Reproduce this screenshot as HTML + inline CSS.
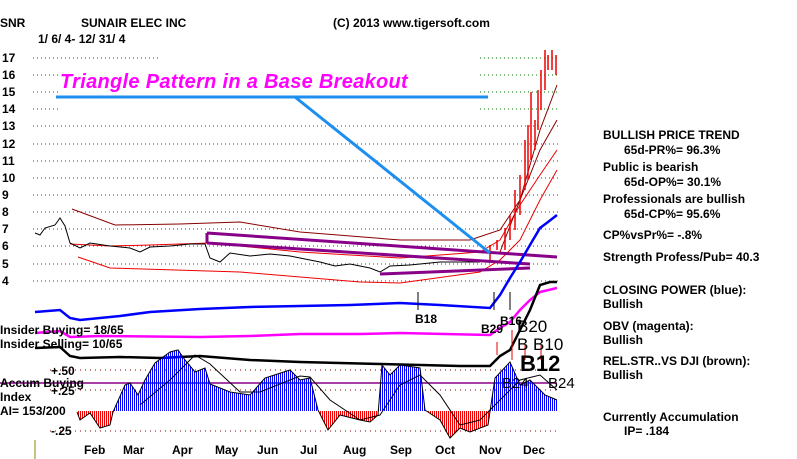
<!DOCTYPE html>
<html><head><meta charset="utf-8"><style>
html,body{margin:0;padding:0;background:#fff;}
#w{position:relative;width:797px;height:459px;overflow:hidden;font-family:"Liberation Sans",sans-serif;font-weight:bold;color:#000;}
.t{position:absolute;font-size:12px;white-space:nowrap;line-height:1;}
svg{position:absolute;left:0;top:0;}
</style></head><body><div id="w">
<svg width="797" height="459">
<defs>
<pattern id="pb" x="0" y="0" width="2" height="4" patternUnits="userSpaceOnUse"><rect x="0" y="0" width="1" height="4" fill="#0000ff"/></pattern>
<pattern id="pr" x="0" y="0" width="2" height="4" patternUnits="userSpaceOnUse"><rect x="0" y="0" width="1" height="4" fill="#ee0000"/></pattern>
<clipPath id="ca"><rect x="0" y="300" width="797" height="111"/></clipPath>
<clipPath id="cb"><rect x="0" y="411" width="797" height="48"/></clipPath>
</defs>
<g stroke="#070" stroke-dasharray="1,3" stroke-width="1">
<line x1="33" y1="58" x2="158" y2="58"/><line x1="33" y1="75" x2="58" y2="75"/><line x1="33" y1="92" x2="58" y2="92"/><line x1="33" y1="109" x2="58" y2="109"/>
<line x1="480" y1="75" x2="558" y2="75"/><line x1="480" y1="92" x2="558" y2="92"/><line x1="480" y1="109" x2="558" y2="109"/><line x1="480" y1="58" x2="558" y2="58"/>
<line x1="33" y1="126" x2="558" y2="126"/><line x1="33" y1="144" x2="558" y2="144"/><line x1="33" y1="161" x2="558" y2="161"/><line x1="33" y1="178" x2="558" y2="178"/><line x1="33" y1="195" x2="558" y2="195"/><line x1="33" y1="212" x2="558" y2="212"/><line x1="33" y1="229" x2="558" y2="229"/><line x1="33" y1="246" x2="558" y2="246"/><line x1="33" y1="264" x2="558" y2="264"/><line x1="33" y1="281" x2="558" y2="281"/>
</g>
<g stroke="#800" stroke-dasharray="1,4"><line x1="50" y1="370" x2="558" y2="370"/><line x1="50" y1="390" x2="558" y2="390"/><line x1="50" y1="431" x2="558" y2="431"/></g>
<g fill="none" stroke-width="1">
<polyline stroke="#800" points="72,209 115,225 180,224 240,222 300,232 400,240 470,240 500,230 520,200 540,150 557,120"/>
<polyline stroke="#e00" points="70,244 110,246 150,245 210,243 300,252 400,258 480,252 500,240 520,205 540,175 557,150"/>
<polyline stroke="#e00" points="78,257 110,268 240,272 360,282 400,283 480,272 500,260 520,240 540,200 557,170"/>
<polyline stroke="#800" points="500,252 520,200 540,130 557,85"/>
<polyline stroke="#000" points="35,233 40,235 45,228 55,225 60,218 65,226 70,243 80,248 90,243 110,246 130,248 140,252 150,247 170,246 190,244 205,244 210,258 220,262 230,253 250,256 270,254 290,256 300,258 320,262 335,266 350,264 370,268 380,272 390,266 410,265 440,262 470,262 480,262"/>
</g>
<g stroke="#e00" stroke-width="1.5">
<line x1="490" y1="245" x2="490" y2="262"/><line x1="497" y1="240" x2="497" y2="250"/><line x1="505" y1="228" x2="505" y2="250"/><line x1="510" y1="215" x2="510" y2="240"/><line x1="515" y1="190" x2="515" y2="230"/><line x1="520" y1="175" x2="520" y2="215"/><line x1="525" y1="140" x2="525" y2="190"/><line x1="528" y1="125" x2="528" y2="180"/><line x1="531" y1="92" x2="531" y2="160"/><line x1="535" y1="120" x2="535" y2="150"/><line x1="538" y1="90" x2="538" y2="130"/><line x1="541" y1="70" x2="541" y2="110"/><line x1="545" y1="50" x2="545" y2="90"/><line x1="548" y1="55" x2="548" y2="70"/><line x1="552" y1="50" x2="552" y2="70"/><line x1="556" y1="55" x2="556" y2="75"/>
</g>
<g stroke="#808" stroke-width="3" fill="none"><line x1="207" y1="233" x2="557" y2="257"/><line x1="207" y1="243" x2="530" y2="264"/><line x1="380" y1="274" x2="530" y2="268"/><line x1="207" y1="233" x2="207" y2="243"/></g>
<line x1="56" y1="97" x2="488" y2="97" stroke="#1e8fef" stroke-width="3"/>
<line x1="295" y1="97" x2="490" y2="253" stroke="#1e8fef" stroke-width="3"/>
<g fill="none" stroke-width="2.5">
<polyline stroke="#00f" points="35,312 60,310 70,318 80,320 120,316 150,312 200,309 250,307 300,306 350,305 400,303 440,305 490,308 500,295 510,278 520,262 530,245 540,228 548,222 557,215"/>
<polyline stroke="#f0f" points="35,333 60,331 70,337 100,336 200,337 250,336 300,334 360,334 400,333 490,335 500,328 510,322 520,310 530,300 540,292 557,288"/>
<polyline stroke="#000" points="35,348 60,347 70,356 80,358 120,357 160,358 200,356 250,360 300,362 380,364 460,366 490,366 500,356 510,350 520,330 530,310 540,285 550,282 557,282"/>
</g>
<g stroke="#808" stroke-width="1.5"><line x1="0" y1="383" x2="557" y2="383"/></g>
<g shape-rendering="crispEdges">
<polygon clip-path="url(#ca)" fill="url(#pb)" points="77,411 77,412 80,420 90,413 100,428 110,425 113,412 125,385 130,383 138,395 145,380 155,363 170,352 178,350 185,360 195,372 205,368 210,384 230,392 250,395 265,378 290,370 300,380 310,378 318,410 328,430 340,415 360,420 370,422 378,415 382,365 390,375 400,365 420,368 425,410 440,420 450,438 460,428 470,432 488,425 495,378 510,362 520,385 530,380 545,395 557,400 557,411"/>
<polygon clip-path="url(#cb)" fill="url(#pr)" points="77,411 77,412 80,420 90,413 100,428 110,425 113,412 125,385 130,383 138,395 145,380 155,363 170,352 178,350 185,360 195,372 205,368 210,384 230,392 250,395 265,378 290,370 300,380 310,378 318,410 328,430 340,415 360,420 370,422 378,415 382,365 390,375 400,365 420,368 425,410 440,420 450,438 460,428 470,432 488,425 495,378 510,362 520,385 530,380 545,395 557,400 557,411"/>
</g>
<polyline fill="none" stroke="#000" stroke-width="1" points="77,412 80,420 90,413 100,428 110,425 113,412 125,385 130,383 138,395 145,380 155,363 170,352 178,350 185,360 195,372 205,368 210,384 230,392 250,395 265,378 290,370 300,380 310,378 318,410 328,430 340,415 360,420 370,422 378,415 382,365 390,375 400,365 420,368 425,410 440,420 450,438 460,428 470,432 488,425 495,378 510,362 520,385 530,380 545,395 557,400"/>
<polyline fill="none" stroke="#000" stroke-width="1" points="140,405 170,380 195,355 210,364 240,392 260,392 300,376 310,377 330,400 360,420 380,415 400,385 420,375 440,395 460,425 480,420 500,400 520,380 540,375 557,390"/>
<line x1="35" y1="440" x2="35" y2="459" stroke="#880" stroke-width="1"/>
<g stroke="#000" fill="none"><line x1="418" y1="310" x2="418" y2="292"/><line x1="494" y1="310" x2="494" y2="292"/><line x1="510" y1="310" x2="510" y2="292"/></g>
<g stroke="#e00" fill="none"><line x1="497" y1="355" x2="497" y2="342"/><line x1="512" y1="360" x2="512" y2="330"/><line x1="525" y1="360" x2="525" y2="345"/><line x1="541" y1="360" x2="541" y2="345"/></g>
</svg>
<div class="t" style="left:0;top:17px">SNR</div>
<div class="t" style="left:81px;top:17px">SUNAIR ELEC INC</div>
<div class="t" style="left:333px;top:17px">(C) 2013 www.tigersoft.com</div>
<div class="t" style="left:38px;top:33px">1/ 6/ 4- 12/ 31/ 4</div>
<div class="t" style="left:2px;top:52px">17</div><div class="t" style="left:2px;top:69px">16</div><div class="t" style="left:2px;top:86px">15</div><div class="t" style="left:2px;top:103px">14</div><div class="t" style="left:2px;top:120px">13</div><div class="t" style="left:2px;top:138px">12</div><div class="t" style="left:2px;top:155px">11</div><div class="t" style="left:2px;top:172px">10</div><div class="t" style="left:2px;top:189px">9</div><div class="t" style="left:2px;top:206px">8</div><div class="t" style="left:2px;top:223px">7</div><div class="t" style="left:2px;top:240px">6</div><div class="t" style="left:2px;top:258px">5</div><div class="t" style="left:2px;top:275px">4</div>
<div class="t" style="left:60px;top:72px;font-size:20px;font-style:italic;color:#f0f;letter-spacing:0.3px">Triangle Pattern in a Base Breakout</div>
<div class="t" style="left:0;top:324px">Insider Buying= 18/65</div>
<div class="t" style="left:0;top:338px">Insider Selling= 10/65</div>
<div class="t" style="left:0;top:377px">Accum Buying</div>
<div class="t" style="left:0;top:391px">Index</div>
<div class="t" style="left:0;top:405px">AI= 153/200</div>
<div class="t" style="left:51px;top:365px">+.50</div>
<div class="t" style="left:51px;top:385px">+.25</div>
<div class="t" style="left:51px;top:425px">-.25</div>
<div class="t" style="left:415px;top:313px">B18</div>
<div class="t" style="left:481px;top:323px">B29</div>
<div class="t" style="left:500px;top:315px">B16</div>
<div class="t" style="left:517px;top:318px;font-size:17px;font-weight:normal">B20</div>
<div class="t" style="left:517px;top:336px;font-size:17px;font-weight:normal">B B10</div>
<div class="t" style="left:520px;top:353px;font-size:22px">B12</div>
<div class="t" style="left:502px;top:376px;font-size:15px;font-weight:normal">B24</div>
<div class="t" style="left:548px;top:376px;font-size:15px;font-weight:normal">B24</div>
<div class="t" style="left:84px;top:444px">Feb</div><div class="t" style="left:123px;top:444px">Mar</div><div class="t" style="left:172px;top:444px">Apr</div><div class="t" style="left:215px;top:444px">May</div><div class="t" style="left:257px;top:444px">Jun</div><div class="t" style="left:300px;top:444px">Jul</div><div class="t" style="left:343px;top:444px">Aug</div><div class="t" style="left:390px;top:444px">Sep</div><div class="t" style="left:435px;top:444px">Oct</div><div class="t" style="left:479px;top:444px">Nov</div><div class="t" style="left:523px;top:444px">Dec</div>
<div class="t" style="left:603px;top:129px">BULLISH PRICE TREND</div>
<div class="t" style="left:624px;top:144px">65d-PR%= 96.3%</div>
<div class="t" style="left:603px;top:161px">Public is bearish</div>
<div class="t" style="left:624px;top:176px">65d-OP%= 30.1%</div>
<div class="t" style="left:603px;top:193px">Professionals are bullish</div>
<div class="t" style="left:624px;top:208px">65d-CP%= 95.6%</div>
<div class="t" style="left:603px;top:229px">CP%vsPr%= -.8%</div>
<div class="t" style="left:603px;top:251px">Strength Profess/Pub= 40.3</div>
<div class="t" style="left:603px;top:284px">CLOSING POWER (blue):</div>
<div class="t" style="left:603px;top:298px">Bullish</div>
<div class="t" style="left:603px;top:320px">OBV (magenta):</div>
<div class="t" style="left:603px;top:334px">Bullish</div>
<div class="t" style="left:603px;top:355px">REL.STR..VS DJI (brown):</div>
<div class="t" style="left:603px;top:369px">Bullish</div>
<div class="t" style="left:603px;top:411px">Currently Accumulation</div>
<div class="t" style="left:624px;top:425px">IP=  .184</div>
</div>
</body></html>
